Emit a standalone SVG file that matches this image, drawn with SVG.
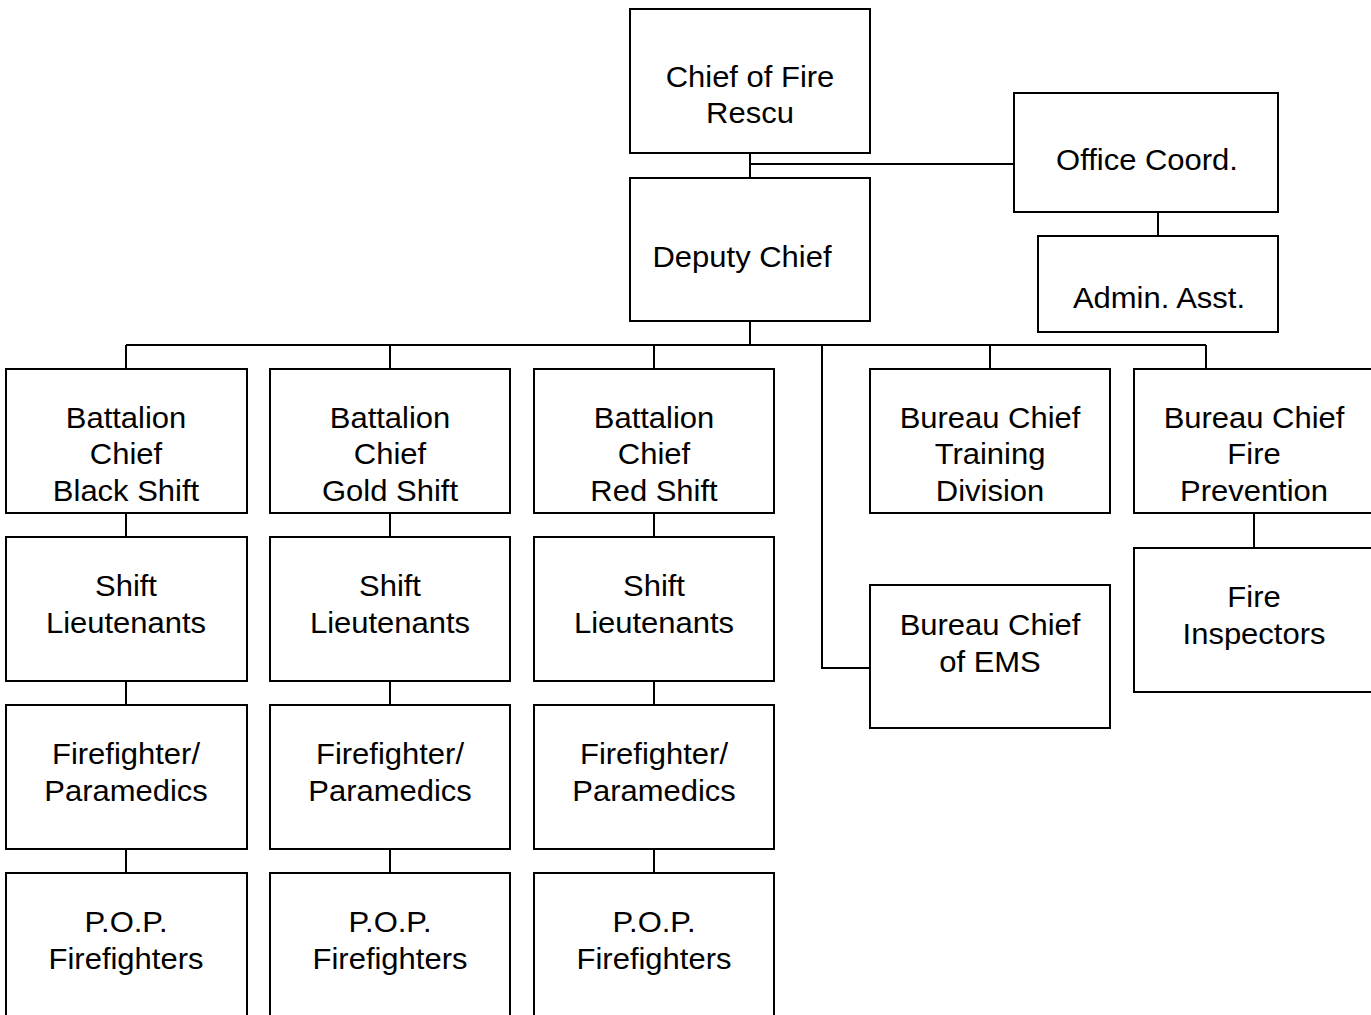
<svg xmlns="http://www.w3.org/2000/svg" width="1371" height="1015" viewBox="0 0 1371 1015">
  <style>
    .box { fill: #fff; stroke: #000; stroke-width: 2; }
    .wire { fill: none; stroke: #000; stroke-width: 2; }
    text { font-family: "Liberation Sans", Arial, sans-serif; font-size: 29.5px; fill: #000; text-anchor: middle; }
  </style>
  <rect width="1371" height="1015" fill="#fff"/>

  <g id="connectors">
    <path class="wire" d="M750 153 V178 M750 164 H1014"/>
    <path class="wire" d="M1158 212 V236"/>
    <path class="wire" d="M750 321 V345 M126 345 H1206 M126 345 V369 M390 345 V369 M654 345 V369 M990 345 V369 M1206 345 V369"/>
    <path class="wire" d="M822 345 V668 H870"/>
    <path class="wire" d="M1254 513 V548"/>
    <path class="wire" d="M126 513 V537 M126 681 V705 M126 849 V873"/>
    <path class="wire" d="M390 513 V537 M390 681 V705 M390 849 V873"/>
    <path class="wire" d="M654 513 V537 M654 681 V705 M654 849 V873"/>
  </g>

  <g id="chief">
    <rect class="box" x="630" y="9" width="240" height="144"/>
    <g transform="matrix(1.05 0 0 1 750 0)"><text x="0" y="87">Chief of Fire</text><text x="0" y="123">Rescu</text></g>
  </g>
  <g id="deputy">
    <rect class="box" x="630" y="178" width="240" height="143"/>
    <g transform="matrix(1.05 0 0 1 742 0)"><text x="0" y="267">Deputy Chief</text></g>
  </g>
  <g id="office-coord">
    <rect class="box" x="1014" y="93" width="264" height="119"/>
    <g transform="matrix(1.05 0 0 1 1147 0)"><text x="0" y="170">Office Coord.</text></g>
  </g>
  <g id="admin-asst">
    <rect class="box" x="1038" y="236" width="240" height="96"/>
    <g transform="matrix(1.05 0 0 1 1159 0)"><text x="0" y="308">Admin. Asst.</text></g>
  </g>

  <g id="bc-black">
    <rect class="box" x="6" y="369" width="241" height="144"/>
    <g transform="matrix(1.05 0 0 1 126 0)"><text x="0" y="428">Battalion</text><text x="0" y="464">Chief</text><text x="0" y="501">Black Shift</text></g>
  </g>
  <g id="bc-gold">
    <rect class="box" x="270" y="369" width="240" height="144"/>
    <g transform="matrix(1.05 0 0 1 390 0)"><text x="0" y="428">Battalion</text><text x="0" y="464">Chief</text><text x="0" y="501">Gold Shift</text></g>
  </g>
  <g id="bc-red">
    <rect class="box" x="534" y="369" width="240" height="144"/>
    <g transform="matrix(1.05 0 0 1 654 0)"><text x="0" y="428">Battalion</text><text x="0" y="464">Chief</text><text x="0" y="501">Red Shift</text></g>
  </g>
  <g id="bureau-training">
    <rect class="box" x="870" y="369" width="240" height="144"/>
    <g transform="matrix(1.05 0 0 1 990 0)"><text x="0" y="428">Bureau Chief</text><text x="0" y="464">Training</text><text x="0" y="501">Division</text></g>
  </g>
  <g id="bureau-prevention">
    <rect class="box" x="1134" y="369" width="240" height="144"/>
    <g transform="matrix(1.05 0 0 1 1254 0)"><text x="0" y="428">Bureau Chief</text><text x="0" y="464">Fire</text><text x="0" y="501">Prevention</text></g>
  </g>
  <g id="bureau-ems">
    <rect class="box" x="870" y="585" width="240" height="143"/>
    <g transform="matrix(1.05 0 0 1 990 0)"><text x="0" y="635">Bureau Chief</text><text x="0" y="672">of EMS</text></g>
  </g>
  <g id="fire-inspectors">
    <rect class="box" x="1134" y="548" width="240" height="144"/>
    <g transform="matrix(1.05 0 0 1 1254 0)"><text x="0" y="607">Fire</text><text x="0" y="644">Inspectors</text></g>
  </g>

  <g id="lt-black">
    <rect class="box" x="6" y="537" width="241" height="144"/>
    <g transform="matrix(1.05 0 0 1 126 0)"><text x="0" y="596">Shift</text><text x="0" y="633">Lieutenants</text></g>
  </g>
  <g id="lt-gold">
    <rect class="box" x="270" y="537" width="240" height="144"/>
    <g transform="matrix(1.05 0 0 1 390 0)"><text x="0" y="596">Shift</text><text x="0" y="633">Lieutenants</text></g>
  </g>
  <g id="lt-red">
    <rect class="box" x="534" y="537" width="240" height="144"/>
    <g transform="matrix(1.05 0 0 1 654 0)"><text x="0" y="596">Shift</text><text x="0" y="633">Lieutenants</text></g>
  </g>

  <g id="ff-black">
    <rect class="box" x="6" y="705" width="241" height="144"/>
    <g transform="matrix(1.05 0 0 1 126 0)"><text x="0" y="764">Firefighter/</text><text x="0" y="801">Paramedics</text></g>
  </g>
  <g id="ff-gold">
    <rect class="box" x="270" y="705" width="240" height="144"/>
    <g transform="matrix(1.05 0 0 1 390 0)"><text x="0" y="764">Firefighter/</text><text x="0" y="801">Paramedics</text></g>
  </g>
  <g id="ff-red">
    <rect class="box" x="534" y="705" width="240" height="144"/>
    <g transform="matrix(1.05 0 0 1 654 0)"><text x="0" y="764">Firefighter/</text><text x="0" y="801">Paramedics</text></g>
  </g>

  <g id="pop-black">
    <rect class="box" x="6" y="873" width="241" height="144"/>
    <g transform="matrix(1.05 0 0 1 126 0)"><text x="0" y="932">P.O.P.</text><text x="0" y="969">Firefighters</text></g>
  </g>
  <g id="pop-gold">
    <rect class="box" x="270" y="873" width="240" height="144"/>
    <g transform="matrix(1.05 0 0 1 390 0)"><text x="0" y="932">P.O.P.</text><text x="0" y="969">Firefighters</text></g>
  </g>
  <g id="pop-red">
    <rect class="box" x="534" y="873" width="240" height="144"/>
    <g transform="matrix(1.05 0 0 1 654 0)"><text x="0" y="932">P.O.P.</text><text x="0" y="969">Firefighters</text></g>
  </g>
</svg>
